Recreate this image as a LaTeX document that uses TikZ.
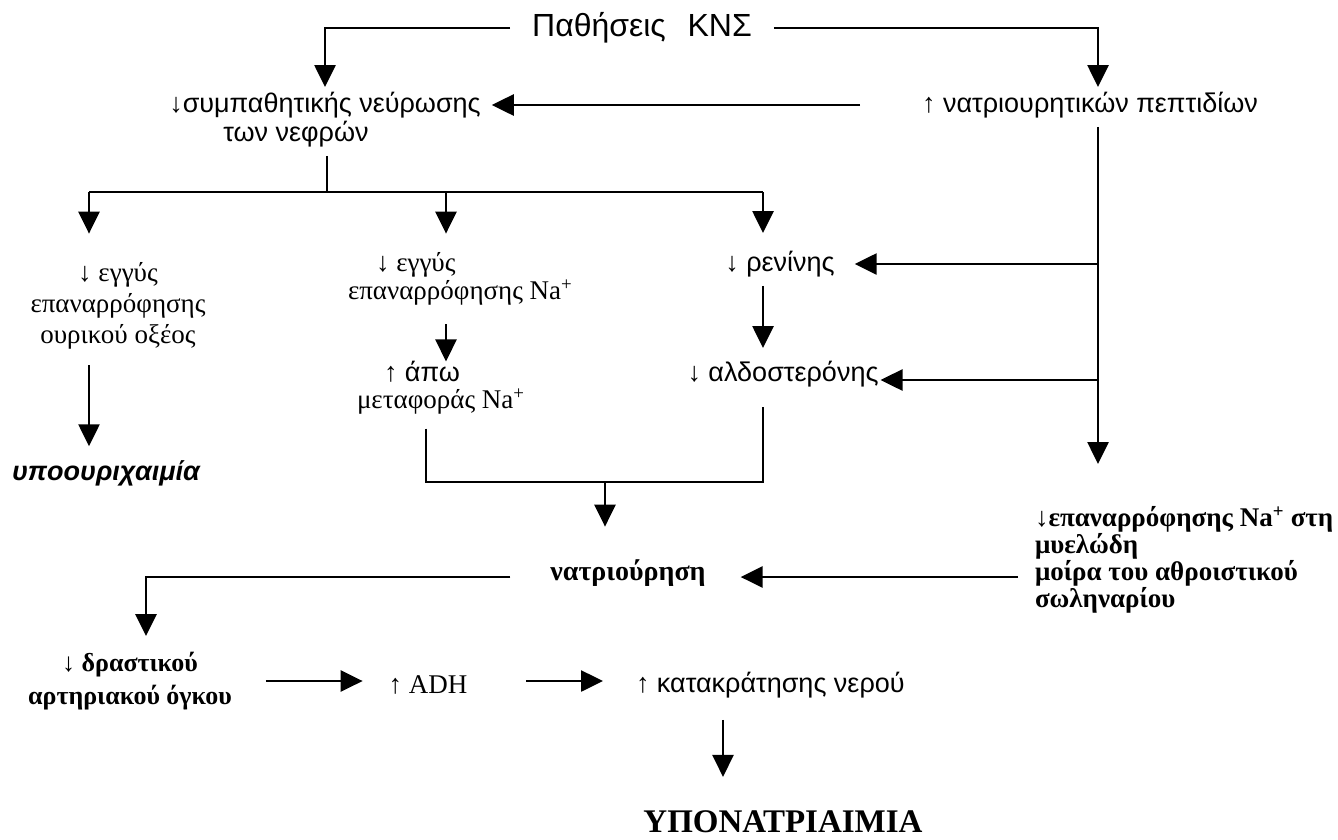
\documentclass[tikz,border=0pt]{standalone}
\usepackage{fontspec}
\setmainfont{Liberation Serif}
\setsansfont{Liberation Sans}
\usetikzlibrary{arrows.meta}
\tikzset{
  every node/.style={inner sep=0pt, outer sep=0pt},
  sf/.style={font=\sffamily\fontsize{27}{32}\selectfont},
  rm/.style={font=\rmfamily\fontsize{27}{31}\selectfont},
  titlestyle/.style={font=\sffamily\fontsize{32}{38}\selectfont},
  ln/.style={line width=2.6pt},
  arr/.style={ln, -{Triangle[length=22pt,width=21pt]}},
}
\begin{document}
\begin{tikzpicture}[x=1pt,y=-1pt]
\useasboundingbox (0,0) rectangle (1338,839);
% nodes
\node[titlestyle] (title) at (642,28) {Παθήσεις\hspace{0.4em} ΚΝΣ};
\node[sf] (symp1) at (325,105) {↓συμπαθητικής νεύρωσης};
\node[sf] (symp2) at (296,134) {των νεφρών};
\node[sf] (natr) at (1090,105) {↑ νατριουρητικών πεπτιδίων};
\node[align=center, font=\rmfamily\fontsize{27}{31}\selectfont] (uric) at (118,306) {↓ εγγύς\\επαναρρόφησης\\ουρικού οξέος};
\node[font=\sffamily\bfseries\itshape\fontsize{27}{32}\selectfont] (hypou) at (106,473) {υποουριχαιμία};
\node[align=left, anchor=west, font=\rmfamily\fontsize{27}{28}\selectfont] (prox) at (348,279) {\hspace*{28pt}↓ εγγύς\\επαναρρόφησης Na\textsuperscript{+}};
\node[align=left, anchor=west, font=\rmfamily\fontsize{27}{27}\selectfont] (distal) at (357,388) {\hspace*{27pt}{\sffamily ↑ άπω}\\μεταφοράς Na\textsuperscript{+}};
\node[sf] (renin) at (780,264) {↓ ρενίνης};
\node[sf] (aldo) at (783,374) {↓ αλδοστερόνης};
\node[font=\rmfamily\bfseries\fontsize{28}{32}\selectfont] (natriur) at (628,573) {νατριούρηση};
\node[align=left, anchor=north west, font=\rmfamily\bfseries\fontsize{27}{27}\selectfont] (medull) at (1035,506) {↓επαναρρόφησης Na\textsuperscript{+} στη\\μυελώδη\\μοίρα του αθροιστικού\\σωληναρίου};
\node[align=center, font=\rmfamily\bfseries\fontsize{26}{33}\selectfont] (vol) at (130,681) {↓ δραστικού\\αρτηριακού όγκου};
\node[rm] (adh) at (428,685) {↑ ADH};
\node[sf, anchor=west] (water) at (636,685) {↑ κατακράτησης νερού};
\node[font=\rmfamily\bfseries\fontsize{33}{38}\selectfont] (hypo) at (783,822) {ΥΠΟΝΑΤΡΙΑΙΜΙΑ};
% junction coordinates
\coordinate (bus) at (327,192);
\coordinate (b1) at (89,192);
\coordinate (b2) at (446,192);
\coordinate (b3) at (763,192);
\coordinate (m1) at (426,482);
\coordinate (m2) at (605,482);
\coordinate (m3) at (763,482);
\coordinate (r1) at (1098,264);
\coordinate (r2) at (1098,380);
\coordinate (d1) at (146,577);
\coordinate (w) at (723,700);
% connectors
\draw[arr, shorten <=22pt, shorten >=5pt] (title.west) -| (symp1.north);
\draw[arr, shorten <=22pt, shorten >=5pt] (title.east) -| (natr.north -| r1);
\draw[arr, shorten <=62pt, shorten >=11pt] (natr.west) -- (symp1.east);
\draw[ln, shorten <=9pt] (bus |- symp2.south) -- (bus);
\draw[ln] (b1) -- (b3);
\draw[arr, shorten >=29pt] (b1) -- (b1 |- uric.north);
\draw[arr, shorten >=19pt] (b2) -- (b2 |- prox.north);
\draw[arr, shorten >=18pt] (b3) -- (b3 |- renin.north);
\draw[arr, shorten <=16pt, shorten >=14pt] (b1 |- uric.south) -- (b1 |- hypou.north);
\draw[arr, shorten <=19pt, shorten >=0pt] (b2 |- prox.south) -- (b2 |- distal.north);
\draw[arr, shorten <=9pt, shorten >=13pt] (b3 |- renin.south) -- (b3 |- aldo.north);
\draw[ln, shorten <=14pt, shorten >=20pt] (m1 |- distal.south) -- (m1) -- (m3) -- (m3 |- aldo.south);
\draw[arr, shorten >=33pt] (m2) -- (m2 |- natriur.north);
\draw[arr, shorten <=9pt, shorten >=42pt] (natr.south -| r1) -- (r1 |- medull.north);
\draw[arr, shorten >=20pt] (r1) -- (r1 -| renin.east);
\draw[arr, shorten >=2pt] (r2) -- (r2 -| aldo.east);
\draw[arr, shorten <=17pt, shorten >=35pt] (medull.west |- d1) -- (d1 -| natriur.east);
\draw[arr, shorten <=40pt, shorten >=16pt] (d1 -| natriur.west) -- (d1) -- (d1 |- vol.north);
\draw[arr, shorten <=34pt, shorten >=26pt] (vol.east) -- (vol.east -| adh.west);
\draw[arr, shorten <=59pt, shorten >=33pt] (adh.east |- vol.east) -- (water.west |- vol.east);
\draw[arr, shorten <=22pt, shorten >=34pt] (w |- water.south) -- (w |- hypo.north);
\end{tikzpicture}
\end{document}
